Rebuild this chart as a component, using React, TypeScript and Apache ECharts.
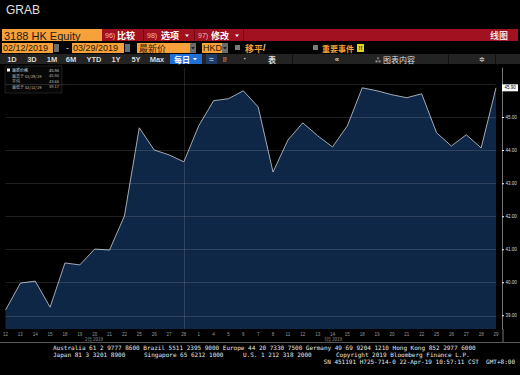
import React, { useEffect, useRef } from "react";
import * as echarts from "echarts";

const categories = ["02/12","02/13","02/14","02/15","02/18","02/19","02/20","02/21","02/22","02/25","02/26","02/27","02/28","03/01","03/04","03/05","03/06","03/07","03/08","03/11","03/12","03/13","03/14","03/15","03/18","03/19","03/20","03/21","03/22","03/25","03/26","03/27","03/28","03/29"];
const prices = [39.17, 39.99, 40.05, 39.26, 40.60, 40.54, 41.02, 40.99, 42.02, 44.69, 44.02, 43.87, 43.66, 44.75, 45.51, 45.57, 45.81, 45.32, 43.35, 44.32, 44.84, 44.45, 44.11, 44.75, 45.90, 45.81, 45.69, 45.60, 45.72, 44.54, 44.14, 44.48, 44.08, 45.90];
const yTicks = [39, 40, 41, 42, 43, 44, 45, 46];
const monthLabels = ["2月 2019", "3月 2019"];
const periods = ["1D", "3D", "1M", "6M", "YTD", "1Y", "5Y", "Max"];
const footerLine1 = "Australia 61 2 9777 8600 Brazil 5511 2395 9000 Europe 44 20 7330 7500 Germany 49 69 9204 1210 Hong Kong 852 2977 6000";
const footerLine2 = ["Japan 81 3 3201 8900", "Singapore 65 6212 1000", "U.S. 1 212 318 2000", "Copyright 2019 Bloomberg Finance L.P."];
const footerLine3 = "SN 451191 H725-714-0 22-Apr-19 10:57:11 CST  GMT+8:00";

const SANS = '"Liberation Sans", "Noto Sans CJK SC", sans-serif';
const CJK = '"Noto Sans CJK SC", "Liberation Sans", sans-serif';
const MONO = '"DejaVu Sans Mono", monospace';

const ORANGE = "#f6a13a";
const RED = "#a1111f";
const periodX = [12, 32, 52, 71, 94, 116, 136, 157];

function txt(x: number, y: number, text: string, font: string, fill: string, align = "left") {
  return { type: "text", x, y, silent: true, style: { text, font, fill, textAlign: align, textVerticalAlign: "middle" } };
}
function rect(x: number, y: number, w: number, h: number, fill: string, stroke?: string) {
  return { type: "rect", silent: true, shape: { x, y, width: w, height: h }, style: stroke ? { fill, stroke, lineWidth: 0.5 } : { fill } };
}
function ln(x1: number, y1: number, x2: number, y2: number, stroke: string, w = 1) {
  return { type: "line", silent: true, shape: { x1, y1, x2, y2 }, style: { stroke, lineWidth: w } };
}
function tri(cx: number, cy: number, fill: string) {
  return { type: "polygon", silent: true, shape: { points: [[cx - 2, cy - 1], [cx + 2, cy - 1], [cx, cy + 1.5]] }, style: { fill } };
}

export default function App() {
  const ref = useRef<HTMLDivElement>(null);
  useEffect(() => {
    if (!ref.current) return;
    const chart = echarts.init(ref.current, null, { renderer: "svg" });
    const last = prices[prices.length - 1];
    const hi = Math.max(...prices);
    const lo = Math.min(...prices);
    const avg = prices.reduce((a, b) => a + b, 0) / prices.length;
    const hiDate = categories[prices.lastIndexOf(hi)];
    const loDate = categories[prices.indexOf(lo)];

    const graphic: any[] = [
      txt(6, 10, "GRAB", `12px ${SANS}`, "#e0e0e0"),
      // row 1
      rect(2, 29, 100, 12, ORANGE),
      txt(4, 35.5, "3188 HK Equity", `11px ${SANS}`, "#1a1a1a"),
      rect(102, 29, 416, 12, RED),
      txt(105, 35.5, "96)", `7px ${SANS}`, "#f3b9bd"),
      txt(117, 35.5, "比较", `bold 9px ${CJK}`, "#ffffff"),
      ln(143.5, 29, 143.5, 41, "#6b0a13"),
      txt(147, 35.5, "98)", `7px ${SANS}`, "#f3b9bd"),
      txt(161, 35.5, "选项", `bold 9px ${CJK}`, "#ffffff"),
      tri(187, 35.5, "#ffffff"),
      ln(194.5, 29, 194.5, 41, "#6b0a13"),
      txt(198, 35.5, "97)", `7px ${SANS}`, "#f3b9bd"),
      txt(211, 35.5, "修改", `bold 9px ${CJK}`, "#ffffff"),
      tri(237, 35.5, "#ffffff"),
      ln(243.5, 29, 243.5, 41, "#6b0a13"),
      txt(508, 35.5, "线图", `bold 9px ${CJK}`, "#f2dede", "right"),
      // row 2
      rect(2, 43, 51, 10, ORANGE),
      txt(3, 48.2, "02/12/2019", `9px ${SANS}`, "#2a1a05"),
      rect(54, 44, 5, 8, "#6d6d6d"),
      txt(66, 48, "-", `9px ${SANS}`, "#dddddd"),
      rect(72, 43, 52, 10, ORANGE),
      txt(73, 48.2, "03/29/2019", `9px ${SANS}`, "#2a1a05"),
      rect(125, 44, 5, 8, "#6d6d6d"),
      rect(137, 43, 53, 10, ORANGE),
      txt(139, 48.2, "最新价", `9px ${CJK}`, "#2a1a05"),
      rect(190, 43, 6, 10, "#6d6d6d"),
      tri(193, 48, "#222"),
      rect(202, 43, 20, 10, ORANGE),
      txt(203, 48.2, "HKD", `9px ${SANS}`, "#2a1a05"),
      rect(222, 43, 6, 10, "#6d6d6d"),
      tri(225, 48, "#222"),
      rect(235, 45, 5, 5, "#7a7a7a"),
      txt(245, 48, "移平", `bold 9px ${CJK}`, ORANGE),
      txt(263, 48, "/", `bold 9px ${SANS}`, "#cfcfcf"),
      rect(313, 45, 5, 5, "#7a7a7a"),
      txt(322, 48, "重要事件", `bold 8px ${CJK}`, ORANGE),
      rect(357, 44, 7, 8, "#e6d21a"),
      txt(360.5, 48.2, "!!", `bold 6px ${SANS}`, "#222", "center"),
      // row 3 toolbar
      rect(0, 54, 520, 10, "#232323"),
      ...periods.map((p, i) => txt(periodX[i], 59, p, `bold 7.5px ${SANS}`, "#d8d8d8", "center")),
      rect(170, 54, 32, 10, "#1f6fd6"),
      txt(174, 59, "每日", `bold 8px ${CJK}`, "#ffffff"),
      tri(195, 59, "#ffffff"),
      rect(206, 54, 11, 10, "#203c66"),
      txt(211.5, 59, "≈", `bold 8px ${SANS}`, "#9fc4f5", "center"),
      txt(225, 59, "l!", `8px ${SANS}`, "#bbbbbb", "center"),
      txt(245, 59, "·", `bold 9px ${SANS}`, "#cccccc", "center"),
      txt(272, 59, "表", `bold 8px ${CJK}`, "#dddddd", "center"),
      ln(292.5, 54, 292.5, 64, "#111"),
      txt(337, 59, "«", `bold 8px ${SANS}`, "#cccccc", "center"),
      txt(378, 59, "⁂", `7px ${SANS}`, "#cccccc", "center"),
      txt(383, 59, "图表内容", `8px ${CJK}`, "#dddddd"),
      ln(448.5, 54, 448.5, 64, "#111"),
      txt(482, 59, "✲", `7px ${SANS}`, "#dddddd", "center"),
      ln(495.5, 54, 495.5, 64, "#111"),
      // legend box
      rect(5, 66, 57, 27, "rgba(8,8,8,0.92)", "#3a3a3a"),
      rect(7, 68.5, 3, 3, "#ffffff"),
      txt(12, 70, "最新价格", `4px ${CJK}`, "#dddddd"),
      txt(59, 70, last.toFixed(2), `4px ${SANS}`, "#dddddd", "right"),
      txt(12, 75.5, `最高于 ${hiDate}/19`, `4px ${CJK}`, "#bbbbbb"),
      txt(59, 75.5, hi.toFixed(2), `4px ${SANS}`, "#bbbbbb", "right"),
      txt(12, 81, "平均", `4px ${CJK}`, "#bbbbbb"),
      txt(59, 81, avg.toFixed(2), `4px ${SANS}`, "#bbbbbb", "right"),
      txt(12, 86.5, `最低于 ${loDate}/19`, `4px ${CJK}`, "#bbbbbb"),
      txt(59, 86.5, lo.toFixed(2), `4px ${SANS}`, "#bbbbbb", "right"),
      // month labels
      txt(94, 338.5, monthLabels[0], `4.5px ${CJK}`, "#9a9a9a", "center"),
      txt(333, 338.5, monthLabels[1], `4.5px ${CJK}`, "#9a9a9a", "center"),
      ln(503, 329, 503, 342, "#777"),
      ln(0, 342.5, 520, 342.5, "#5a5a5a"),
      // footer
      txt(53, 347.5, footerLine1, `6px ${MONO}`, "#e8e8e8"),
      txt(53, 354.5, footerLine2[0], `6px ${MONO}`, "#e8e8e8"),
      txt(144, 354.5, footerLine2[1], `6px ${MONO}`, "#e8e8e8"),
      txt(243, 354.5, footerLine2[2], `6px ${MONO}`, "#e8e8e8"),
      txt(336, 354.5, footerLine2[3], `6px ${MONO}`, "#e8e8e8"),
      txt(515, 361.5, footerLine3, `6px ${MONO}`, "#e8e8e8", "right"),
    ];

    chart.setOption({
      animation: false,
      backgroundColor: "#000000",
      grid: { left: 3, right: 24, top: 68, bottom: 46 },
      xAxis: {
        type: "category",
        data: categories,
        boundaryGap: false,
        axisLine: { show: false },
        axisTick: { show: false },
        splitLine: { show: false },
        axisLabel: {
          interval: 0,
          showMinLabel: false,
          fontSize: 4.5,
          color: "#9a9a9a",
          margin: 3,
          formatter: (d: string) => String(parseInt(d.slice(3), 10)),
        },
      },
      yAxis: {
        type: "value",
        position: "right",
        offset: 6,
        min: 38.6,
        max: 46.5,
        axisLine: { show: true, lineStyle: { color: "#777", width: 1 } },
        axisTick: { show: false },
        axisLabel: { show: false },
        splitLine: { show: false },
      },
      series: [
        {
          type: "line",
          data: prices,
          symbol: "none",
          lineStyle: { color: "#c9d1dc", width: 0.8 },
          areaStyle: { color: "#0f2746", opacity: 1 },
          markLine: {
            silent: true,
            symbol: "none",
            lineStyle: { color: "rgba(255,255,255,0.13)", type: "solid", width: 1 },
            label: {
              show: true,
              position: "end",
              distance: 6,
              formatter: (p: any) => `{t|}{v|${Number(p.value).toFixed(2)}}`,
              rich: {
                t: { width: 2, height: 1, backgroundColor: "#ffffff" },
                v: { fontSize: 4.5, color: "#dcdcdc", padding: [0, 0, 0, 1.5] },
              },
            },
            data: [
              ...yTicks.map((v) => ({ yAxis: v, label: { show: v !== 46 } })),
              { xAxis: categories[12], label: { show: false } },
            ],
          },
          markPoint: {
            silent: true,
            symbol: "rect",
            symbolSize: [16, 7],
            symbolOffset: [14, 0],
            itemStyle: { color: "#ffffff" },
            label: { show: true, position: "inside", color: "#000", fontSize: 4.5, formatter: () => last.toFixed(2) },
            data: [{ coord: [categories[categories.length - 1], last] }],
          },
        },
      ],
      graphic,
    });
    return () => chart.dispose();
  }, []);
  return <div ref={ref} style={{ position: "absolute", left: 0, top: 0, width: 520, height: 375, background: "#000" }} />;
}
